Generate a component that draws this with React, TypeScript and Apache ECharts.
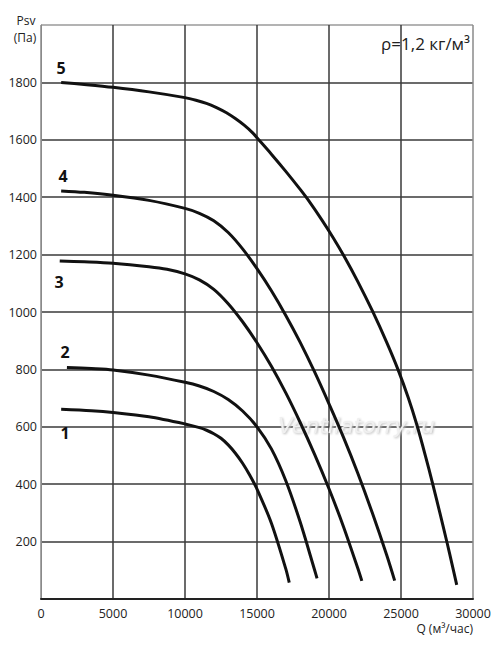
import React, { useEffect, useRef } from "react";
import * as echarts from "echarts";

const xTicks = [0, 5000, 10000, 15000, 20000, 25000, 30000];
const yTicks = [0, 200, 400, 600, 800, 1000, 1200, 1400, 1600, 1800, 2000];

const curve1: [number, number][] = [
  [1400, 661], [3500, 656], [5000, 650], [7500, 635], [10000, 610],
  [11000, 597], [11500, 588], [12000, 576], [12500, 560], [13000, 537],
  [13500, 508], [14000, 473], [14500, 431], [15000, 383], [16000, 264],
  [17000, 105], [17240, 57],
];
const curve2: [number, number][] = [
  [1800, 807], [3500, 803], [5000, 798], [7500, 780], [10000, 755],
  [11000, 742], [12000, 723], [13000, 695], [14000, 655], [15000, 600],
  [16000, 523], [17000, 412], [18000, 268], [19000, 101], [19170, 72],
];
const curve3: [number, number][] = [
  [1300, 1178], [3000, 1175], [5000, 1170], [7500, 1158], [8750, 1149],
  [10000, 1133], [11000, 1112], [12000, 1079], [13000, 1029], [14000, 966],
  [15000, 893], [16000, 811], [17000, 718], [18000, 615], [19000, 504],
  [20000, 384], [21000, 253], [22000, 107], [22280, 63],
];
const curve4: [number, number][] = [
  [1400, 1422], [3000, 1417], [5000, 1407], [7500, 1389], [10000, 1361],
  [11000, 1344], [12000, 1318], [13000, 1277], [14000, 1220], [15000, 1151],
  [16000, 1074], [17000, 988], [18000, 894], [19000, 791], [20000, 680],
  [21000, 564], [22000, 438], [23000, 301], [24000, 154], [24560, 64],
];
const curve5: [number, number][] = [
  [1400, 1800], [3000, 1793], [5000, 1783], [7500, 1767], [10000, 1747],
  [10760, 1738], [11490, 1727], [12190, 1712], [12880, 1694], [13520, 1673],
  [14130, 1650], [14700, 1624], [15000, 1607], [16000, 1550], [17000, 1490],
  [18000, 1427], [18600, 1387], [19500, 1321], [20300, 1258], [21040, 1195],
  [22000, 1106], [23040, 1001], [24000, 895], [24780, 801], [25500, 702],
  [26100, 607], [26700, 498], [27200, 401], [27700, 300], [28200, 196],
  [28550, 120], [28870, 49],
];
const curves = [curve1, curve2, curve3, curve4, curve5];
const curveNames = ["1", "2", "3", "4", "5"];

const FONT = "'Open Sans', 'Noto Sans', sans-serif";

export default function App() {
  const ref = useRef<HTMLDivElement>(null);
  useEffect(() => {
    document.body.style.margin = "0";
    if (!ref.current) return;
    const chart = echarts.init(ref.current, undefined, { renderer: "svg" });
    const ySplitColors = yTicks.map((v, i) => (i === yTicks.length - 1 ? "#9a9a9a" : "#3a3a3a"));
    const xSplitColors = xTicks.map((v, i) => (i === 0 || i === xTicks.length - 1 ? "#8a8a8a" : "#3a3a3a"));
    const labelPos: [number, number][] = [
      [65, 433], [65, 352], [59, 282], [63, 176], [61, 68],
    ];
    chart.setOption({
      animation: false,
      backgroundColor: "#fff",
      grid: { left: 41, right: 27, top: 25, bottom: 51, containLabel: false, outerBoundsMode: "none" },
      xAxis: {
        type: "value",
        min: 0,
        max: 30000,
        interval: 5000,
        axisLine: { show: true, lineStyle: { color: "#222", width: 2 } },
        axisTick: { show: false },
        axisLabel: {
          color: "#222", fontSize: 12.5, fontFamily: FONT, margin: 8,
          formatter: (v: number) => String(v),
        },
        splitLine: { show: true, lineStyle: { color: xSplitColors, width: 1.5 } },
      },
      yAxis: {
        type: "value",
        min: 0,
        max: 2000,
        interval: 200,
        axisLine: { show: true, lineStyle: { color: "#8a8a8a", width: 1 } },
        axisTick: { show: false },
        axisLabel: {
          color: "#222",
          fontSize: 12.5,
          fontFamily: FONT,
          margin: 4,
          formatter: (v: number) => (v === 0 || v === 2000 ? "" : String(v)),
        },
        splitLine: { show: true, lineStyle: { color: ySplitColors, width: 1.5 } },
      },
      series: curves.map((c, i) => ({
        type: "line",
        name: curveNames[i],
        data: c,
        smooth: 0.3,
        showSymbol: false,
        symbol: "none",
        z: 5,
        lineStyle: { color: "#111", width: 3 },
      })),
      graphic: [
        {
          type: "text",
          left: 278,
          top: 414,
          z: 1,
          style: {
            text: "Ventilatorry.ru",
            font: "italic 22px 'DejaVu Sans', sans-serif",
            fill: "#f0f0f0",
            textShadowColor: "#bdbdbd",
            textShadowBlur: 2,
            textShadowOffsetX: 1,
            textShadowOffsetY: 1,
          },
        },
        ...labelPos.map((p, i) => ({
          type: "text",
          x: p[0],
          y: p[1],
          z: 10,
          style: {
            text: curveNames[i],
            font: `bold 16px ${FONT}`,
            fill: "#111",
            textAlign: "center",
            textVerticalAlign: "middle",
          },
        })),
        {
          type: "text",
          x: 26,
          y: 20,
          style: { text: "Psv", font: `12px ${FONT}`, fill: "#222", textAlign: "center", textVerticalAlign: "middle" },
        },
        {
          type: "text",
          x: 25,
          y: 37,
          style: { text: "(Па)", font: `12px ${FONT}`, fill: "#222", textAlign: "center", textVerticalAlign: "middle" },
        },
        {
          type: "text",
          x: 470,
          y: 43,
          style: { text: "ρ=1,2 кг/м³", font: `17px ${FONT}`, fill: "#222", textAlign: "right", textVerticalAlign: "middle" },
        },
        {
          type: "text",
          x: 473,
          y: 628,
          style: { text: "Q (м³/час)", font: `12px ${FONT}`, fill: "#222", textAlign: "right", textVerticalAlign: "middle" },
        },
      ],
    });
    return () => chart.dispose();
  }, []);
  return <div ref={ref} style={{ width: 500, height: 650 }} />;
}
